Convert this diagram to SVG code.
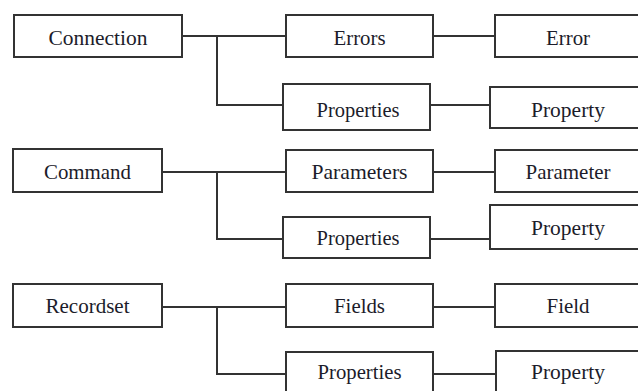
<svg xmlns="http://www.w3.org/2000/svg" width="638" height="391" viewBox="0 0 638 391">
  <style>
    .box rect { fill: #ffffff; stroke: #333333; stroke-width: 2; }
    .box text { font-family: "Liberation Serif", "Times New Roman", serif; font-size: 22px; fill: #1c1c2a; text-anchor: middle; }
    #connectors path { fill: none; stroke: #333333; stroke-width: 2; }
  </style>
  <rect width="638" height="391" fill="#ffffff"/>

  <!-- tree connectors -->
  <g id="connectors">
    <path d="M182 36 H286 M217 36 V105 H283"/>
    <path d="M433 36 H495"/>
    <path d="M430 105 H490"/>
    <path d="M162 172 H286 M217 172 V239 H283"/>
    <path d="M433 172 H495"/>
    <path d="M430 239 H490"/>
    <path d="M162 307 H286 M217 307 V374 H286"/>
    <path d="M433 307 H495"/>
    <path d="M433 374 H496"/>
  </g>

  <!-- Connection branch -->
  <g id="connection" class="box">
    <rect x="14" y="15" width="168" height="42"/>
    <text x="98" y="45" textLength="99" lengthAdjust="spacingAndGlyphs">Connection</text>
  </g>
  <g id="errors" class="box">
    <rect x="286" y="15" width="147" height="42"/>
    <text x="359.5" y="45" textLength="52" lengthAdjust="spacingAndGlyphs">Errors</text>
  </g>
  <g id="error" class="box">
    <rect x="495" y="15" width="150" height="42"/>
    <text x="568" y="45" textLength="44" lengthAdjust="spacingAndGlyphs">Error</text>
  </g>
  <g id="connection-properties" class="box">
    <rect x="283" y="84" width="147" height="46"/>
    <text x="358" y="117" textLength="83" lengthAdjust="spacingAndGlyphs">Properties</text>
  </g>
  <g id="connection-property" class="box">
    <rect x="490" y="87" width="155" height="41"/>
    <text x="568" y="117" textLength="74" lengthAdjust="spacingAndGlyphs">Property</text>
  </g>

  <!-- Command branch -->
  <g id="command" class="box">
    <rect x="13" y="149" width="149" height="43"/>
    <text x="87.5" y="179" textLength="87" lengthAdjust="spacingAndGlyphs">Command</text>
  </g>
  <g id="parameters" class="box">
    <rect x="286" y="150" width="147" height="42"/>
    <text x="359.5" y="179" textLength="96" lengthAdjust="spacingAndGlyphs">Parameters</text>
  </g>
  <g id="parameter" class="box">
    <rect x="495" y="150" width="150" height="42"/>
    <text x="568" y="179" textLength="85" lengthAdjust="spacingAndGlyphs">Parameter</text>
  </g>
  <g id="command-properties" class="box">
    <rect x="283" y="217" width="147" height="41"/>
    <text x="358" y="245" textLength="83" lengthAdjust="spacingAndGlyphs">Properties</text>
  </g>
  <g id="command-property" class="box">
    <rect x="490" y="205" width="155" height="44"/>
    <text x="568" y="235" textLength="74" lengthAdjust="spacingAndGlyphs">Property</text>
  </g>

  <!-- Recordset branch -->
  <g id="recordset" class="box">
    <rect x="13" y="284" width="149" height="43"/>
    <text x="87.5" y="313" textLength="84" lengthAdjust="spacingAndGlyphs">Recordset</text>
  </g>
  <g id="fields" class="box">
    <rect x="286" y="284" width="147" height="43"/>
    <text x="359.5" y="313" textLength="51" lengthAdjust="spacingAndGlyphs">Fields</text>
  </g>
  <g id="field" class="box">
    <rect x="495" y="284" width="150" height="43"/>
    <text x="568" y="313" textLength="43" lengthAdjust="spacingAndGlyphs">Field</text>
  </g>
  <g id="recordset-properties" class="box">
    <rect x="286" y="352" width="147" height="46"/>
    <text x="359.5" y="379" textLength="84" lengthAdjust="spacingAndGlyphs">Properties</text>
  </g>
  <g id="recordset-property" class="box">
    <rect x="496" y="351" width="150" height="47"/>
    <text x="568" y="379" textLength="74" lengthAdjust="spacingAndGlyphs">Property</text>
  </g>
</svg>
